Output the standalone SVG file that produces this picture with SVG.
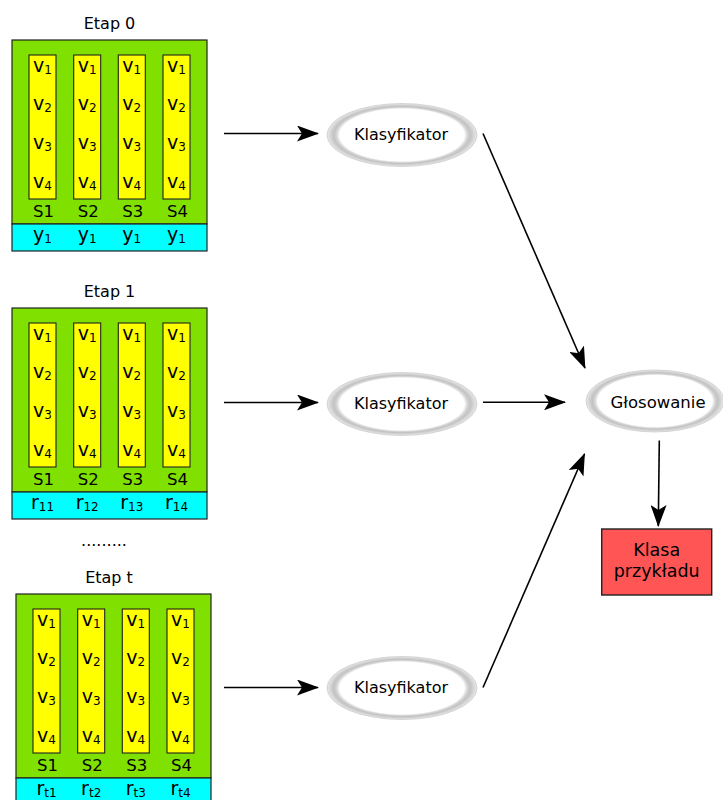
<svg xmlns="http://www.w3.org/2000/svg" xmlns:xlink="http://www.w3.org/1999/xlink" width="723" height="800" viewBox="0 0 723 800">
  <style>
    text { font-family: "DejaVu Sans", Verdana, sans-serif; fill: #000; }
    .title { font-size: 16px; text-anchor: middle; }
    .v { font-size: 19px; text-anchor: middle; }
    .sub { font-size: 12px; }
    .s { font-size: 16.5px; text-anchor: middle; }
    .lab { font-size: 16px; text-anchor: middle; }
    .green { fill: #80e000; stroke: #222; stroke-width: 1.2; }
    .cyan { fill: #00ffff; stroke: #222; stroke-width: 1.2; }
    .col { fill: #ffff00; stroke: #222; stroke-width: 1.1; }
    .oval { fill: url(#ovalFill); stroke: #c6c6c6; stroke-width: 0.7; }
    .wire { fill: none; stroke: #000; stroke-width: 1.6; marker-end: url(#head); }
  </style>
  <defs>
    <radialGradient id="ovalFill" cx="0.5" cy="0.5" r="0.5">
      <stop offset="0" stop-color="#fff"/>
      <stop offset="0.83" stop-color="#fff"/>
      <stop offset="0.87" stop-color="#d6d6d6"/>
      <stop offset="0.91" stop-color="#c2c2c2"/>
      <stop offset="0.97" stop-color="#dcdcdc"/>
      <stop offset="1" stop-color="#ededed"/>
    </radialGradient>
    <marker id="head" markerUnits="userSpaceOnUse" viewBox="0 0 22 16" markerWidth="22" markerHeight="16" refX="21" refY="8" orient="auto">
      <path d="M22,8 L0,0 L5,8 L0,16 Z" fill="#000"/>
    </marker>
    <!-- one feature column: yellow strip with v1..v4 -->
    <g id="column">
      <rect class="col" x="0" y="0" width="27" height="144"/>
      <text class="v" x="13.5" y="17">v<tspan class="sub" dy="1.5">1</tspan></text>
      <text class="v" x="13.5" y="55">v<tspan class="sub" dy="1.5">2</tspan></text>
      <text class="v" x="13.5" y="94">v<tspan class="sub" dy="1.5">3</tspan></text>
      <text class="v" x="13.5" y="133">v<tspan class="sub" dy="1.5">4</tspan></text>
    </g>
    <g id="stageBody">
      <rect class="green" x="0" y="0" width="195" height="184"/>
      <use xlink:href="#column" x="17" y="15"/>
      <use xlink:href="#column" x="61.7" y="15"/>
      <use xlink:href="#column" x="106.3" y="15"/>
      <use xlink:href="#column" x="151" y="15"/>
      <text class="s" x="31.5" y="177">S1</text>
      <text class="s" x="76.2" y="177">S2</text>
      <text class="s" x="120.8" y="177">S3</text>
      <text class="s" x="165.5" y="177">S4</text>
    </g>
  </defs>

  <!-- stage 0 -->
  <g id="etap0" transform="translate(12,40)">
    <text class="title" x="97.5" y="-10.7">Etap 0</text>
    <use xlink:href="#stageBody"/>
    <rect class="cyan" x="0" y="184" width="195" height="27"/>
    <text class="v" x="30.5" y="201">y<tspan class="sub" dy="1.5">1</tspan></text>
    <text class="v" x="75.2" y="201">y<tspan class="sub" dy="1.5">1</tspan></text>
    <text class="v" x="119.8" y="201">y<tspan class="sub" dy="1.5">1</tspan></text>
    <text class="v" x="164.5" y="201">y<tspan class="sub" dy="1.5">1</tspan></text>
  </g>

  <!-- stage 1 -->
  <g id="etap1" transform="translate(12,308)">
    <text class="title" x="97.5" y="-10.7">Etap 1</text>
    <use xlink:href="#stageBody"/>
    <rect class="cyan" x="0" y="184" width="195" height="27"/>
    <text class="v" x="30.5" y="201">r<tspan class="sub" dy="1.5">11</tspan></text>
    <text class="v" x="75.2" y="201">r<tspan class="sub" dy="1.5">12</tspan></text>
    <text class="v" x="119.8" y="201">r<tspan class="sub" dy="1.5">13</tspan></text>
    <text class="v" x="164.5" y="201">r<tspan class="sub" dy="1.5">14</tspan></text>
  </g>

  <text id="dots" class="title" x="104" y="546">.........</text>

  <!-- stage t -->
  <g id="etapT" transform="translate(16,594)">
    <text class="title" x="93" y="-10.7">Etap t</text>
    <use xlink:href="#stageBody"/>
    <rect class="cyan" x="0" y="184" width="195" height="27"/>
    <text class="v" x="30.5" y="201">r<tspan class="sub" dy="1.5">t1</tspan></text>
    <text class="v" x="75.2" y="201">r<tspan class="sub" dy="1.5">t2</tspan></text>
    <text class="v" x="119.8" y="201">r<tspan class="sub" dy="1.5">t3</tspan></text>
    <text class="v" x="164.5" y="201">r<tspan class="sub" dy="1.5">t4</tspan></text>
  </g>

  <!-- classifiers -->
  <g id="klasyfikator0">
    <ellipse class="oval" cx="402" cy="135" rx="75" ry="31.5"/>
    <text class="lab" x="401" y="140">Klasyfikator</text>
  </g>
  <g id="klasyfikator1">
    <ellipse class="oval" cx="402" cy="404" rx="75" ry="31.5"/>
    <text class="lab" x="401" y="409">Klasyfikator</text>
  </g>
  <g id="klasyfikatorT">
    <ellipse class="oval" cx="402" cy="688" rx="75" ry="31.5"/>
    <text class="lab" x="401" y="693">Klasyfikator</text>
  </g>

  <!-- voting -->
  <g id="glosowanie">
    <ellipse class="oval" cx="655" cy="401" rx="69" ry="31"/>
    <text class="lab" x="658" y="408" style="font-size:16.5px">Głosowanie</text>
  </g>

  <!-- result -->
  <g id="klasa">
    <rect x="601.7" y="529" width="110" height="66" fill="#ff5555" stroke="#222" stroke-width="1.4"/>
    <text class="lab" x="656.7" y="556" style="font-size:17.5px">Klasa</text>
    <text class="lab" x="656.7" y="577" style="font-size:17.5px">przykładu</text>
  </g>

  <!-- connectors -->
  <g id="connectors">
    <line class="wire" x1="224" y1="133.5" x2="318" y2="133.5"/>
    <line class="wire" x1="224" y1="402.5" x2="318" y2="402.5"/>
    <line class="wire" x1="224" y1="687.5" x2="318" y2="687.5"/>
    <line class="wire" x1="483" y1="133.5" x2="585" y2="368"/>
    <line class="wire" x1="483" y1="402.3" x2="565" y2="402.3"/>
    <line class="wire" x1="483" y1="687.5" x2="584.5" y2="454"/>
    <line class="wire" x1="659.3" y1="440.5" x2="658.3" y2="526"/>
  </g>
</svg>
